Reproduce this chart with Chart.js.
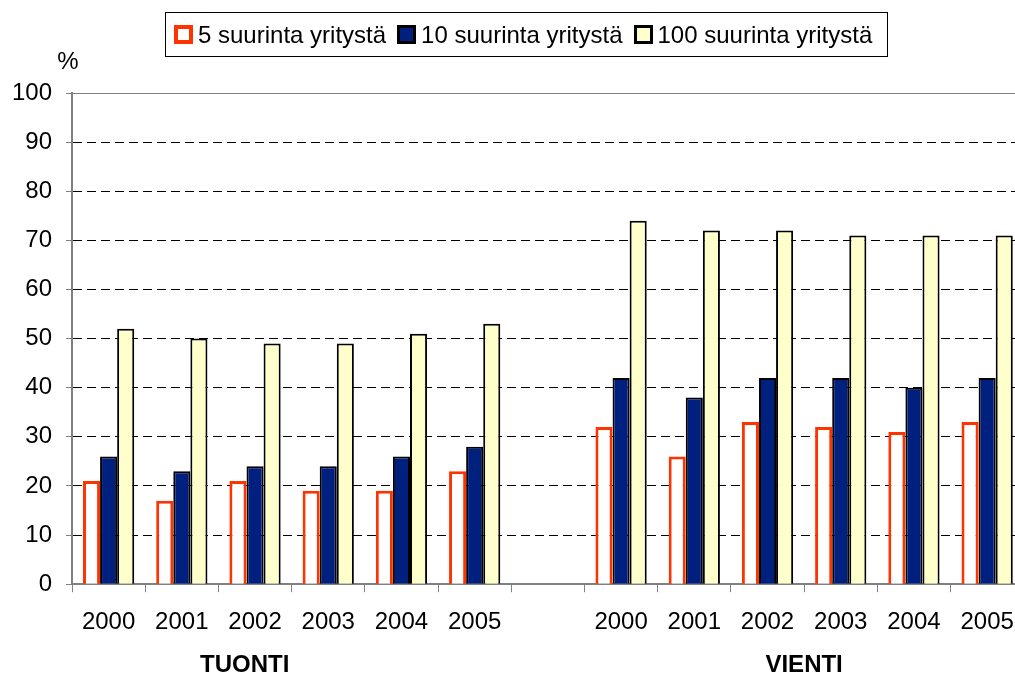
<!DOCTYPE html>
<html lang="fi">
<head>
<meta charset="UTF-8">
<title>Suurimpien yritysten osuus</title>
<script src="https://cdn.jsdelivr.net/npm/chart.js@4.4.0/dist/chart.umd.min.js"></script>
<style>
    body {
        margin: 0;
        overflow: hidden;
        background: #fff;
        font-family: "Liberation Sans", Arial, sans-serif;
    }
    .wrap {
        position: relative;
        width: 1030px;
        height: 677px;
    }
    #legend {
        position: absolute;
        left: 165px;
        top: 12px;
        width: 723px;
        height: 45px;
        border: 1px solid #000;
        display: flex;
        align-items: center;
        padding-left: 8px;
        box-sizing: border-box;
        font-size: 24px;
        color: #000;
        white-space: nowrap;
    }
    #legend .item {
        display: flex;
        align-items: center;
        margin-right: 11px;
    }
    #legend .box {
        width: 19px;
        height: 19px;
        box-sizing: border-box;
        margin-right: 5px;
    }
</style>
</head>
<body>
<div class="wrap">
    <canvas id="chart" width="1030" height="677"></canvas>
    <div id="legend"></div>
</div>
<script>
// categories: six years of imports, an empty gap, six years of exports
const years = ['2000', '2001', '2002', '2003', '2004', '2005', '', '2000', '2001', '2002', '2003', '2004', '2005'];
const groupNames = ['TUONTI', 'VIENTI'];
const seriesNames = ['5 suurinta yritystä', '10 suurinta yritystä', '100 suurinta yritystä'];

const top5 = [21, 17, 21, 19, 19, 23, null, 32, 26, 33, 32, 31, 33];
const top10 = [26, 23, 24, 24, 26, 28, null, 42, 38, 42, 42, 40, 42];
const top100 = [52, 50, 49, 49, 51, 53, null, 74, 72, 72, 71, 71, 71];

const yTicks = [0, 10, 20, 30, 40, 50, 60, 70, 80, 90, 100];

const fills = ['#FFFFFF', '#002080', '#FFFFCC'];
const borders = ['#FF3300', '#000000', '#000000'];
const borderWidths = [3, 2, 2];

const FONT = '"Liberation Sans", Arial, sans-serif';

// html legend with a border, like the original
const legendEl = document.getElementById('legend');
seriesNames.forEach(function(name, i) {
    const item = document.createElement('div');
    item.className = 'item';
    const box = document.createElement('div');
    box.className = 'box';
    box.style.background = fills[i];
    box.style.border = borderWidths[i] + 1 + 'px solid ' + borders[i];
    const txt = document.createElement('span');
    txt.textContent = name;
    item.appendChild(box);
    item.appendChild(txt);
    legendEl.appendChild(item);
});

const extras = {
    id: 'extras',
    afterDraw(chart) {
        const ctx = chart.ctx;
        const area = chart.chartArea;
        const x = chart.scales.x;
        ctx.save();
        // solid top border of plot area
        ctx.strokeStyle = '#808080';
        ctx.lineWidth = 1;
        ctx.beginPath();
        ctx.moveTo(area.left, area.top + 0.5);
        ctx.lineTo(area.right, area.top + 0.5);
        ctx.stroke();

        ctx.fillStyle = '#000';
        ctx.font = '24px ' + FONT;
        ctx.textAlign = 'center';
        ctx.textBaseline = 'middle';
        ctx.fillText('%', area.left - 4, area.top - 31);

        ctx.font = 'bold 24px ' + FONT;
        ctx.fillText(groupNames[0], x.getPixelForValue(1.86), 665);
        ctx.fillText(groupNames[1], x.getPixelForValue(9.5), 665);
        ctx.restore();
    }
};

function makeSet(label, data, i) {
    return {
        label: label,
        data: data,
        backgroundColor: fills[i],
        borderColor: borders[i],
        borderWidth: borderWidths[i],
        borderSkipped: 'bottom',
        categoryPercentage: 0.7,
        barPercentage: 1.0
    };
}

new Chart(document.getElementById('chart'), {
    type: 'bar',
    data: {
        labels: years,
        datasets: [
            makeSet(seriesNames[0], top5, 0),
            makeSet(seriesNames[1], top10, 1),
            makeSet(seriesNames[2], top100, 2)
        ]
    },
    options: {
        responsive: false,
        animation: false,
        layout: { padding: { top: 93, right: 4, bottom: 24, left: 0 } },
        plugins: {
            legend: { display: false },
            tooltip: { enabled: false }
        },
        scales: {
            x: {
                grid: {
                    display: true,
                    offset: true,
                    drawOnChartArea: false,
                    tickLength: 8,
                    tickColor: '#808080'
                },
                border: { color: '#808080', width: 2 },
                ticks: {
                    color: '#000',
                    font: { family: FONT, size: 24 },
                    padding: 16,
                    maxRotation: 0,
                    autoSkip: false
                }
            },
            y: {
                min: 0,
                max: 100,
                afterBuildTicks(axis) {
                    axis.ticks = yTicks.map(v => ({ value: v }));
                },
                afterFit(axis) {
                    axis.width = 72;
                },
                grid: {
                    color: ctx => (ctx.tick && (ctx.tick.value === 0 || ctx.tick.value === 100)) ? 'rgba(0,0,0,0)' : '#000',
                    tickColor: '#808080',
                    tickLength: 6,
                    lineWidth: 1
                },
                border: { color: '#808080', width: 2, dash: [9, 5] },
                ticks: {
                    color: '#000',
                    font: { family: FONT, size: 24 },
                    padding: 14
                }
            }
        }
    },
    plugins: [extras]
});
</script>
</body>
</html>
